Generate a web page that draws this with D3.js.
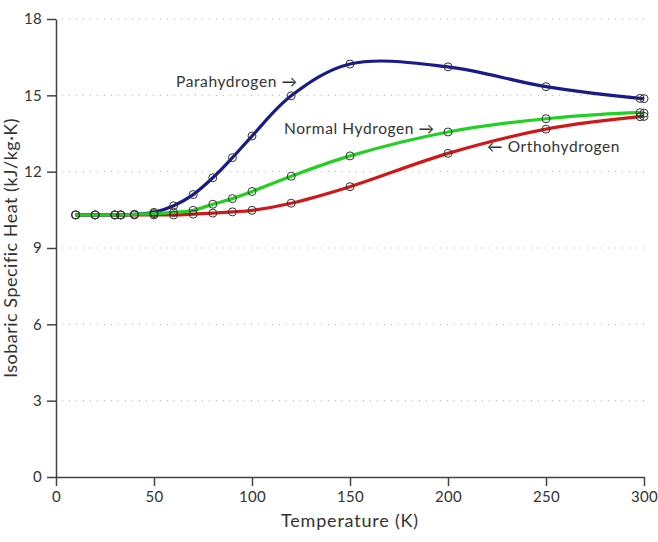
<!DOCTYPE html>
<html>
<head>
<meta charset="utf-8">
<script src="https://cdn.jsdelivr.net/npm/d3@7"></script>
<style>
  body { margin: 0; background: #fff; }
  text { font-family: "Lato", "Open Sans", sans-serif; fill: #333; }
  .axis path, .axis line { stroke: #444; stroke-width: 1.5; }
  .axis text { font-size: 15px; fill: #333; letter-spacing: 0.3px; }
</style>
</head>
<body>
<script>
// temperatures (K) and isobaric specific heat (kJ/kg·K)
var temps = [10, 20, 30, 33, 40, 50, 60, 70, 80, 90, 100, 120, 150, 200, 250, 298, 300];
var para   = [10.3, 10.3, 10.3, 10.3, 10.32, 10.4, 10.66, 11.1, 11.76, 12.55, 13.4, 14.98, 16.23, 16.12, 15.34, 14.88, 14.87];
var normal = [10.3, 10.3, 10.3, 10.3, 10.32, 10.35, 10.4, 10.48, 10.72, 10.94, 11.22, 11.82, 12.62, 13.56, 14.08, 14.32, 14.3];
var ortho  = [10.3, 10.3, 10.3, 10.3, 10.3, 10.3, 10.3, 10.33, 10.37, 10.42, 10.48, 10.76, 11.41, 12.72, 13.67, 14.16, 14.17];
var xTicks = [0, 50, 100, 150, 200, 250, 300];
var yTicks = [0, 3, 6, 9, 12, 15, 18];

var w = 658, h = 542;

var svg = d3.select("body").append("svg")
  .attr("width", w)
  .attr("height", h);

var xScale = d3.scaleLinear().domain([0, 300]).range([56, 644]);
var yScale = d3.scaleLinear().domain([0, 18]).range([477, 19]);

// dotted grid
svg.selectAll("line.grid")
  .data(yTicks.slice(1))
  .enter().append("line")
  .attr("class", "grid")
  .attr("x1", xScale(3))
  .attr("x2", xScale(300))
  .attr("y1", function(d) { return yScale(d); })
  .attr("y2", function(d) { return yScale(d); })
  .attr("stroke", "#aaa")
  .attr("stroke-width", 1)
  .attr("stroke-dasharray", "1,6");

var xAxis = d3.axisBottom(xScale).tickValues(xTicks).tickSize(9).tickSizeOuter(0).tickPadding(5);
var yAxis = d3.axisLeft(yScale).tickValues(yTicks).tickSize(9).tickSizeOuter(0).tickPadding(5);

svg.append("g")
  .attr("class", "axis")
  .attr("transform", "translate(0," + yScale(0) + ")")
  .call(xAxis);

svg.append("g")
  .attr("class", "axis")
  .attr("transform", "translate(" + xScale(0) + ",0)")
  .call(yAxis);

var series = [
  { name: "ortho", values: ortho, colour: "#d01818" },
  { name: "para", values: para, colour: "#1a1a8a" },
  { name: "normal", values: normal, colour: "#22d022" }
];

var line = d3.line()
  .x(function(d) { return xScale(d[0]); })
  .y(function(d) { return yScale(d[1]); })
  .curve(d3.curveCatmullRom.alpha(0.5));

series.forEach(function(s) {
  var pts = temps.map(function(t, i) { return [t, s.values[i]]; });
  svg.append("path")
    .datum(pts)
    .attr("d", line)
    .attr("fill", "none")
    .attr("stroke", s.colour)
    .attr("stroke-width", 3.2);
});

series.forEach(function(s) {
  var pts = temps.map(function(t, i) { return [t, s.values[i]]; });
  svg.selectAll(null)
    .data(pts)
    .enter().append("circle")
    .attr("cx", function(d) { return xScale(d[0]); })
    .attr("cy", function(d) { return yScale(d[1]); })
    .attr("r", 4)
    .attr("fill", "none")
    .attr("stroke", "#333")
    .attr("stroke-width", 1);
});

// labels
var labels = [
  { text: "Parahydrogen \u2192", x: 176, y: 87 },
  { text: "Normal Hydrogen \u2192", x: 284, y: 134 },
  { text: "\u2190 Orthohydrogen", x: 487, y: 152 }
];
svg.selectAll("text.lbl")
  .data(labels)
  .enter().append("text")
  .attr("class", "lbl")
  .attr("x", function(d) { return d.x; })
  .attr("y", function(d) { return d.y; })
  .style("font-size", "15.5px")
  .style("letter-spacing", "0.6px")
  .text(function(d) { return d.text; });

svg.append("text")
  .attr("x", xScale(150))
  .attr("y", 527)
  .attr("text-anchor", "middle")
  .style("font-size", "18px")
  .style("letter-spacing", "0.8px")
  .text("Temperature (K)");

svg.append("text")
  .attr("transform", "translate(17," + yScale(9) + ") rotate(-90)")
  .attr("text-anchor", "middle")
  .style("font-size", "18px")
  .style("letter-spacing", "0.5px")
  .text("Isobaric Specific Heat (kJ/kg\u00b7K)");
</script>
</body>
</html>
